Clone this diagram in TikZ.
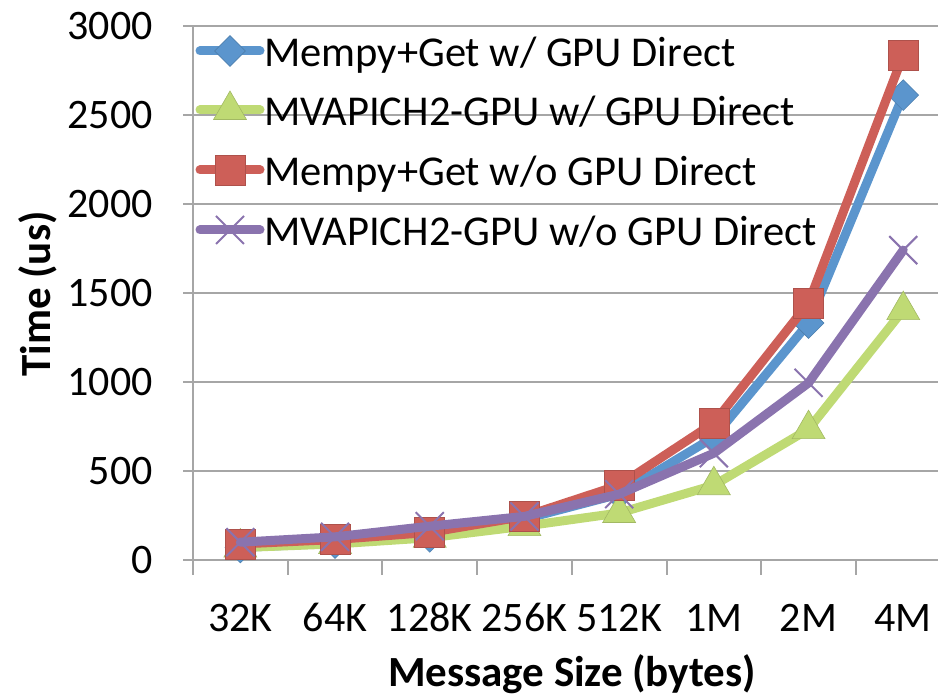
\documentclass[tikz,border=0pt]{standalone}
\usepackage{fontspec}
\setmainfont{Carlito}
\usetikzlibrary{positioning, shapes.geometric, shapes.misc}

\definecolor{serBlue}{HTML}{5B95CD}
\definecolor{serGreen}{HTML}{BFDA74}
\definecolor{serRed}{HTML}{CD5F58}
\definecolor{serPurple}{HTML}{8A73AE}
\definecolor{gridGray}{HTML}{A6A6A6}

\tikzset{
  gridline/.style={draw=gridGray, line width=2pt},
  series/.style={line width=9pt, line cap=round, line join=round},
  mkdiamond/.style={diamond, fill=serBlue, draw=serBlue!85!black, line width=0.6pt, inner sep=0pt, minimum size=31pt},
  mktriangle/.style={regular polygon, regular polygon sides=3, fill=serGreen, draw=serGreen!85!black, line width=0.6pt, inner sep=0pt, minimum size=38pt},
  mksquare/.style={rectangle, fill=serRed, draw=serRed!85!black, line width=0.6pt, inner sep=0pt, minimum size=30pt},
  mkcross/.style={cross out, draw=serPurple, line width=2pt, inner sep=0pt, minimum size=26pt},
  ticklbl/.style={font=\fontsize{42}{48}\selectfont, inner sep=0pt},
  legtext/.style={font=\fontsize{42.5}{49}\selectfont, inner sep=0pt, anchor=base west},
  axtitle/.style={font=\bfseries\fontsize{43}{50}\selectfont, inner sep=0pt}
}

\begin{document}
\begin{tikzpicture}[x=1pt, y=1pt]
\useasboundingbox (0,0) rectangle (938,698);

% plot area: categories along x, time (us) along y
\begin{scope}[shift={(193pt,138pt)}, x=94.7pt, y=0.178pt]
  % gridlines and axes
  \foreach \v in {500,1000,...,3000}
    \draw[gridline] (0,\v) -- (7.87,\v);
  \draw[gridline] (0,0) -- (0,3000);
  \draw[gridline] (0,0) -- (7.87,0);
  \foreach \v in {0,500,...,3000} {
    \draw[gridline] (0,\v) -- ++(-10pt,0);
    \node[ticklbl, anchor=east] (ytick\v) at ([xshift=-40pt]0,\v) {\v};
  }
  \foreach \lbl [count=\k from 0] in {32K,64K,128K,256K,512K,1M,2M,4M} {
    \draw[gridline] (\k,0) -- ++(0,-15pt);
    \node[ticklbl, anchor=base] (xtick\k) at ([yshift=-72pt]\k+0.5,0) {\lbl};
  }

  % Mempy+Get w/ GPU Direct
  \foreach \v [count=\i from 0] in {70,95,130,230,370,690,1331,2612}
    \coordinate (b\i) at (\i+0.5,\v);
  \draw[series, serBlue] (b0) -- (b1) -- (b2) -- (b3) -- (b4) -- (b5) -- (b6) -- (b7);
  \foreach \i in {0,...,7}
    \node[mkdiamond] (bm\i) at (b\i) {};

  % MVAPICH2-GPU w/ GPU Direct
  \foreach \v [count=\i from 0] in {70,90,125,190,264,420,735,1404}
    \coordinate (g\i) at (\i+0.5,\v);
  \draw[series, serGreen] (g0) -- (g1) -- (g2) -- (g3) -- (g4) -- (g5) -- (g6) -- (g7);
  \foreach \i in {0,...,7}
    \node[mktriangle] (gm\i) at (g\i) {};

  % Mempy+Get w/o GPU Direct
  \foreach \v [count=\i from 0] in {90,115,155,245,420,770,1444,2837}
    \coordinate (r\i) at (\i+0.5,\v);
  \draw[series, serRed] (r0) -- (r1) -- (r2) -- (r3) -- (r4) -- (r5) -- (r6) -- (r7);
  \foreach \i in {0,...,7}
    \node[mksquare] (rm\i) at (r\i) {};

  % MVAPICH2-GPU w/o GPU Direct
  \foreach \v [count=\i from 0] in {100,130,190,245,370,600,995,1741}
    \coordinate (p\i) at (\i+0.5,\v);
  \draw[series, serPurple] (p0) -- (p1) -- (p2) -- (p3) -- (p4) -- (p5) -- (p6) -- (p7);
  \foreach \i in {0,...,7}
    \node[mkcross] (pm\i) at (p\i) {};
\end{scope}

% axis titles
\node[axtitle, rotate=90] (ytitle) at (38,404) {Time (us)};
\node[axtitle, anchor=base] (xtitle) at (572,11) {Message Size (bytes)};

% legend
\foreach \y/\col/\mk/\txt [count=\n] in {
    647/serBlue/mkdiamond/{Mempy+Get w/ GPU Direct},
    588/serGreen/mktriangle/{MVAPICH2-GPU w/ GPU Direct},
    528/serRed/mksquare/{Mempy+Get w/o GPU Direct},
    468/serPurple/mkcross/{MVAPICH2-GPU w/o GPU Direct}} {
  \coordinate (lega\n) at (200,\y);
  \coordinate (legb\n) at (260,\y);
  \draw[series, \col] (lega\n) -- (legb\n);
  \node[\mk] (legm\n) at (230,\y) {};
  \node[legtext] (legt\n) at (264,\y-16) {\txt};
}
\end{tikzpicture}
\end{document}
